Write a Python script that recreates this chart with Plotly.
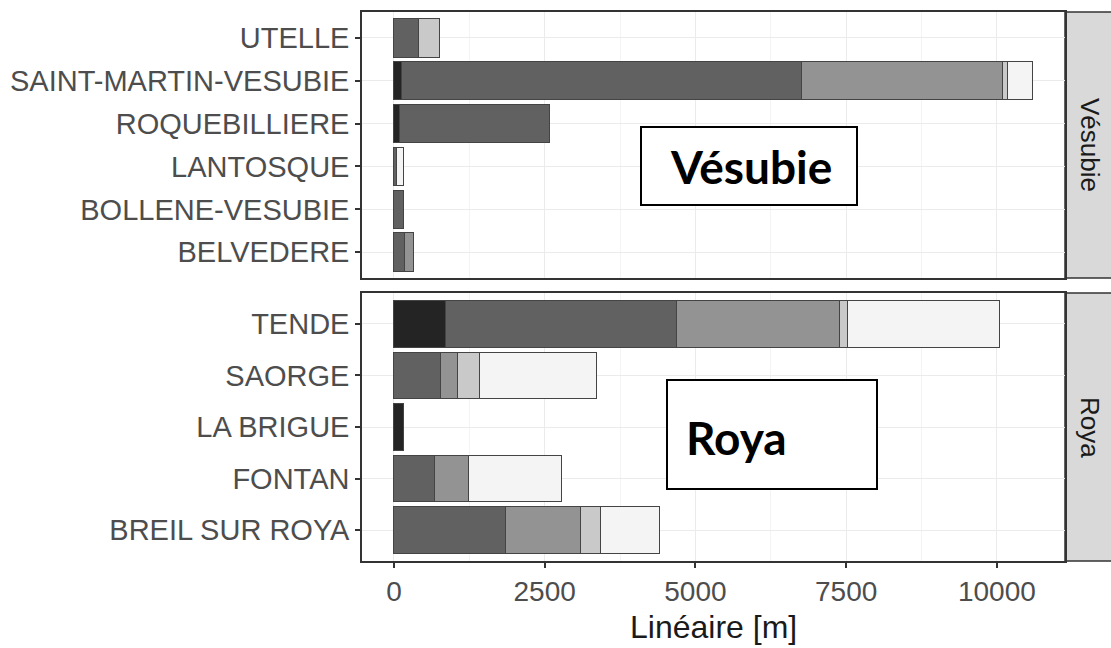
import plotly.graph_objects as go

# Communes (bottom to top within each panel)
vesubie_communes = ["BELVEDERE", "BOLLENE-VESUBIE", "LANTOSQUE", "ROQUEBILLIERE",
                    "SAINT-MARTIN-VESUBIE", "UTELLE"]
roya_communes = ["BREIL SUR ROYA", "FONTAN", "LA BRIGUE", "SAORGE", "TENDE"]

# Linear length [m] per class, darkest class first
class_names = ["Classe 1", "Classe 2", "Classe 3", "Classe 4", "Classe 5"]
class_colors = ["#242424", "#616161", "#939393", "#c9c9c9", "#f4f4f4"]

vesubie_c1 = [0, 0, 0, 100, 120, 0]
vesubie_c2 = [175, 150, 50, 2480, 6643, 402]
vesubie_c3 = [155, 0, 0, 0, 3337, 0]
vesubie_c4 = [0, 0, 0, 0, 83, 358]
vesubie_c5 = [0, 0, 100, 0, 415, 0]

roya_c1 = [0, 0, 153, 0, 855]
roya_c2 = [1851, 672, 0, 772, 3834]
roya_c3 = [1244, 559, 0, 277, 2694]
roya_c4 = [332, 0, 0, 370, 139]
roya_c5 = [985, 1549, 0, 1942, 2516]

x_ticks = [0, 2500, 5000, 7500, 10000]
x_tick_labels = ["0", "2500", "5000", "7500", "10000"]

vesubie_series = [vesubie_c1, vesubie_c2, vesubie_c3, vesubie_c4, vesubie_c5]
roya_series = [roya_c1, roya_c2, roya_c3, roya_c4, roya_c5]

fig = go.Figure()
for name, color, vv, rv in zip(class_names, class_colors, vesubie_series, roya_series):
    fig.add_trace(go.Bar(
        x=vv, y=vesubie_communes, orientation="h", name=name,
        marker=dict(color=color, line=dict(color="#444444", width=1)),
        xaxis="x2", yaxis="y2", showlegend=False, legendgroup=name))
    fig.add_trace(go.Bar(
        x=rv, y=roya_communes, orientation="h", name=name,
        marker=dict(color=color, line=dict(color="#444444", width=1)),
        xaxis="x", yaxis="y", showlegend=False, legendgroup=name))

W, H = 1111, 648
px_l, px_r = 362, 1065
top_dom = [1 - 278 / H, 1 - 12 / H]
bot_dom = [1 - 561 / H, 1 - 293 / H]
xdom = [px_l / W, px_r / W]

FONT = "Liberation Sans, Arial, sans-serif"
ytickfont = dict(family=FONT, size=29, color="#4d4d4d")
xtickfont = dict(family=FONT, size=28, color="#4d4d4d")
common_x = dict(domain=xdom, range=[-530, 11130], tickvals=x_ticks, ticktext=x_tick_labels,
                showline=True, mirror=True, linecolor="#333333", linewidth=1.5,
                gridcolor="#ebebeb", gridwidth=1.2, zeroline=False, automargin=False,
                minor=dict(dtick=1250, tick0=0, showgrid=True, gridcolor="#f4f4f4", gridwidth=1))
common_y = dict(type="category", categoryorder="array", ticks="outside", ticklen=5,
                tickcolor="#333333", tickwidth=1.5, tickfont=ytickfont, showline=True,
                mirror=True, linecolor="#333333", linewidth=1.5, gridcolor="#ebebeb",
                gridwidth=1.2, automargin=False)

fig.update_layout(
    width=W, height=H,
    margin=dict(l=0, r=0, t=0, b=0),
    paper_bgcolor="white", plot_bgcolor="white",
    barmode="stack", bargap=0.1,
    xaxis=dict(**common_x, anchor="y", ticks="outside", ticklen=5, tickcolor="#333333",
               tickwidth=1.5, tickfont=xtickfont),
    xaxis2=dict(**common_x, anchor="y2", matches="x", showticklabels=False, ticks=""),
    yaxis=dict(**common_y, domain=bot_dom, categoryarray=roya_communes,
               range=[-0.6, 4.6], anchor="x"),
    yaxis2=dict(**common_y, domain=top_dom, categoryarray=vesubie_communes,
                range=[-0.6, 5.6], anchor="x2"),
)

# x-axis title
fig.add_annotation(xref="paper", yref="paper", x=(px_l + px_r) / 2 / W, y=1 - 627 / H,
                   xanchor="center", yanchor="middle", text="Linéaire [m]", showarrow=False,
                   font=dict(family=FONT, size=32, color="#1a1a1a"))

# facet strips on the right
strip_x0 = px_r / W
for dom, label in [(top_dom, "Vésubie"), (bot_dom, "Roya")]:
    fig.add_shape(type="rect", xref="paper", yref="paper", x0=strip_x0, x1=1.02,
                  y0=dom[0], y1=dom[1], fillcolor="#d9d9d9",
                  line=dict(color="#333333", width=1.5), layer="below")
    fig.add_annotation(xref="paper", yref="paper", x=1090 / W, y=(dom[0] + dom[1]) / 2,
                       xanchor="center", yanchor="middle",
                       text=label, textangle=90, showarrow=False,
                       font=dict(family=FONT, size=26, color="#1a1a1a"))

# boxed region labels
boxes = [("Vésubie", 641, 857, 127, 205, 668, 166),
         ("Roya", 667, 877, 380, 489, 684, 437)]
for text, x0, x1, y0, y1, tx, ty in boxes:
    fig.add_shape(type="rect", xref="paper", yref="paper",
                  x0=x0 / W, x1=x1 / W, y0=1 - y1 / H, y1=1 - y0 / H,
                  fillcolor="white", line=dict(color="black", width=2), layer="above")
    fig.add_annotation(xref="paper", yref="paper", x=tx / W, y=1 - ty / H,
                       xanchor="left", yanchor="middle", text="<b>%s</b>" % text, showarrow=False,
                       font=dict(family="Lato, Open Sans, sans-serif", size=46, color="black"))

fig.write_html("out.html", config={"displayModeBar": False},
               post_script="document.body.style.margin='0';document.body.style.padding='0';")
